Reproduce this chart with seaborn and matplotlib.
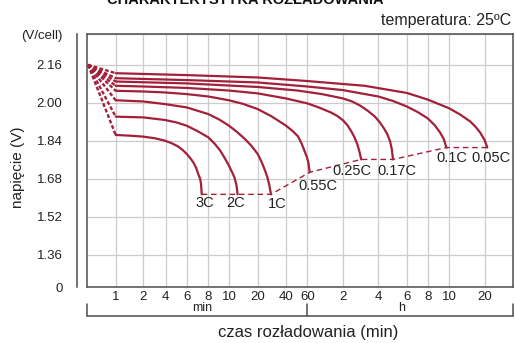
import numpy as np
import pandas as pd
import matplotlib
matplotlib.use('Agg')
import matplotlib.pyplot as plt
import seaborn as sns

# discharge time (min) and voltage (V/cell)
rates = ['3C', '2C', '1C', '0.55C', '0.25C', '0.17C', '0.1C', '0.05C']

t_3c = [1, 1.43, 2, 2.87, 3.9, 4.5, 5.1, 5.6, 6, 6.27, 6.55, 6.8, 7.0, 7.17, 7.26, 7.33]
v_3c = [1.865, 1.862, 1.858, 1.851, 1.841, 1.830, 1.816, 1.800, 1.785, 1.769, 1.750, 1.727, 1.70, 1.681, 1.66, 1.615]

t_2c = [1, 2, 3.9, 4.9, 6, 6.9, 8, 8.55, 9.1, 9.5, 9.9, 10.6, 11.4, 12.0, 12.3]
v_2c = [1.942, 1.939, 1.928, 1.918, 1.904, 1.882, 1.855, 1.829, 1.799, 1.771, 1.743, 1.714, 1.687, 1.652, 1.615]

t_1c = [1, 2, 3.9, 6, 8, 9, 10, 12.1, 14.7, 17.2, 20, 22, 24, 25.4, 26.5, 27.8]
v_1c = [2.011, 2.006, 1.995, 1.981, 1.953, 1.930, 1.904, 1.878, 1.848, 1.819, 1.785, 1.752, 1.715, 1.687, 1.659, 1.615]

t_055c = [1, 2, 3.9, 6, 8, 10, 14, 20, 28, 40, 45, 50.4, 53.8, 57.1, 59.4, 61.2, 62.9]
v_055c = [2.051, 2.048, 2.044, 2.037, 2.027, 2.011, 1.996, 1.974, 1.944, 1.905, 1.884, 1.859, 1.830, 1.796, 1.773, 1.750, 1.708]

t_025c = [1, 2, 6, 10, 20, 40, 60, 75, 95, 108, 121, 132, 142, 151, 159.5, 166, 172]
v_025c = [2.072, 2.069, 2.063, 2.052, 2.040, 2.019, 1.998, 1.981, 1.960, 1.945, 1.926, 1.905, 1.880, 1.855, 1.826, 1.796, 1.762]

t_017c = [1, 6, 20, 50, 80, 120, 144, 168, 194, 224, 244, 260, 273, 284, 291, 296]
v_017c = [2.090, 2.082, 2.067, 2.052, 2.037, 2.019, 2.006, 1.989, 1.968, 1.943, 1.920, 1.893, 1.868, 1.838, 1.805, 1.762]

t_01c = [1, 6, 20, 60, 120, 240, 296, 360, 417, 480, 515, 545, 567, 582]
v_01c = [2.104, 2.096, 2.086, 2.069, 2.054, 2.027, 2.008, 1.985, 1.962, 1.935, 1.907, 1.876, 1.847, 1.812]

t_005c = [1, 6, 20, 60, 184, 360, 480, 600, 740, 900, 1000, 1090, 1190, 1255]
v_005c = [2.125, 2.117, 2.107, 2.092, 2.072, 2.042, 2.014, 1.977, 1.951, 1.922, 1.899, 1.876, 1.844, 1.812]

start_t, start_v = 0.5, 2.16   # common starting point of the dashed lines

times = [t_3c, t_2c, t_1c, t_055c, t_025c, t_017c, t_01c, t_005c]
volts = [v_3c, v_2c, v_1c, v_055c, v_025c, v_017c, v_01c, v_005c]

tick_min = [1, 2, 4, 6, 8, 10, 20, 40, 60, 120, 240, 360, 480, 600, 1200]
tick_lab = ['1', '2', '4', '6', '8', '10', '20', '40', '60', '2', '4', '6', '8', '10', '20']
y_ticks = [1.225, 1.36, 1.52, 1.68, 1.84, 2.00, 2.16, 2.29]
y_labs = ['0', '1.36', '1.52', '1.68', '1.84', '2.00', '2.16', '(V/cell)']

# the time axis is hand drawn: each tick has its own place
tick_px = np.array([115.7, 143.3, 165.7, 186.7, 208.3, 229, 257.7, 285.7,
                    307.3, 342.7, 378.3, 406.7, 427.7, 449.3, 485])
LT = np.log10(tick_min)


def fwd(m):
    lm = np.log10(np.clip(np.asarray(m, dtype=float), 1e-6, None))
    p = np.interp(lm, LT, tick_px)
    p = np.where(lm < LT[0], tick_px[0] + (lm - LT[0]) * (tick_px[1] - tick_px[0]) / (LT[1] - LT[0]), p)
    p = np.where(lm > LT[-1], tick_px[-1] + (lm - LT[-1]) * (tick_px[-1] - tick_px[-2]) / (LT[-1] - LT[-2]), p)
    return p


def inv(p):
    p = np.asarray(p, dtype=float)
    lm = np.interp(p, tick_px, LT)
    lm = np.where(p < tick_px[0], LT[0] + (p - tick_px[0]) * (LT[1] - LT[0]) / (tick_px[1] - tick_px[0]), lm)
    lm = np.where(p > tick_px[-1], LT[-1] + (p - tick_px[-1]) * (LT[-1] - LT[-2]) / (tick_px[-1] - tick_px[-2]), lm)
    return 10 ** lm


sns.set_theme(style='white')
plt.rcParams['font.family'] = ['Liberation Sans', 'DejaVu Sans']

red = '#a3203a'
dark = '#4d4d4d'
txt = '#222222'

rows = []
for r, t, v in zip(rates, times, volts):
    for ti, vi in zip(t, v):
        rows.append((r, ti, vi))
df = pd.DataFrame(rows, columns=['rate', 'czas', 'napiecie'])

fig = plt.figure(figsize=(5.15, 3.43), dpi=100)
W, H = 515, 343
ax = fig.add_axes([86.7 / W, 1 - 287 / H, (512.7 - 86.7) / W, (287 - 34) / H])
ax.set_xscale('function', functions=(fwd, inv))
ax.set_xlim(inv(86.7), inv(512.7))
ax.set_ylim(1.225, 2.29)

# grid
ax.set_xticks(tick_min)
ax.set_xticklabels(tick_lab)
ax.set_yticks(y_ticks)
ax.set_yticklabels(y_labs)
ax.minorticks_off()
ax.grid(True, color='#cccccc', lw=0.9)
ax.set_axisbelow(True)

# dashed start segments
for t, v in zip(times, volts):
    ax.plot([start_t, t[0]], [start_v, v[0]], color=red, lw=1.7,
            dashes=(1.6, 0.9), solid_capstyle='butt')

sns.lineplot(data=df, x='czas', y='napiecie', units='rate', estimator=None,
             sort=False, color=red, lw=1.6, ax=ax, legend=False)
for ln in ax.lines:
    ln.set_solid_joinstyle('round')

# dashed line through the end points
ax.plot([t[-1] for t in times], [v[-1] for v in volts], color=red, lw=1.0,
        dashes=(4, 2.7))

offs = [(3, -9), (-2, -9), (6, -10), (8, -14), (-9, -11.5), (4, -11.5), (5, -10.5), (4, -10)]
for r, t, v, o in zip(rates, times, volts, offs):
    ax.annotate(r, (t[-1], v[-1]), xytext=o, textcoords='offset pixels',
                ha='center', va='center', fontsize=10.5, color=txt)

ax.set_xlabel('')
ax.set_ylabel('')
for s in ax.spines.values():
    s.set_color(dark)
    s.set_linewidth(1.1)
ax.spines['left'].set_position(('outward', 7.2))
ax.plot([0, 0], [0, 1], transform=ax.transAxes, color=dark, lw=1.1, clip_on=False)
ax.tick_params(axis='y', length=7.2, width=1, color=dark, pad=3, labelsize=9.5, labelcolor=txt)
ax.tick_params(axis='x', length=0, pad=3, labelsize=9.5, labelcolor=txt)

# min / h bracket under the time axis
tr = ax.get_xaxis_transform()
x0, x1 = ax.get_xlim()
ax.plot([x0, x1], [-0.1146, -0.1146], transform=tr, color=dark, lw=1.1, clip_on=False)
for xc in [x0, 60, x1]:
    ax.plot([xc, xc], [-0.067, -0.1146], transform=tr, color=dark, lw=1.1, clip_on=False)
ax.text(0.271, -0.083, 'min', transform=ax.transAxes, ha='center', va='center', fontsize=9, color=txt)
ax.text(0.740, -0.083, 'h', transform=ax.transAxes, ha='center', va='center', fontsize=9, color=txt)

fig.text(308 / W, 1 - 332 / H, 'czas rozładowania (min)', ha='center', va='center', fontsize=12, color=txt)
fig.text(18 / W, 1 - 167 / H, 'napięcie (V)', rotation=90, ha='center', va='center', fontsize=11, color=txt)
fig.text(511 / W, 1 - 20 / H, 'temperatura: 25ºC', ha='right', va='center', fontsize=11.5, color=txt)
fig.text(245 / W, 1 - 7 / H, 'CHARAKTERYSTYKA ROZŁADOWANIA', ha='center', va='bottom',
         fontsize=10.5, fontweight='bold', color='#111111')

plt.savefig('out.png', dpi=100)
